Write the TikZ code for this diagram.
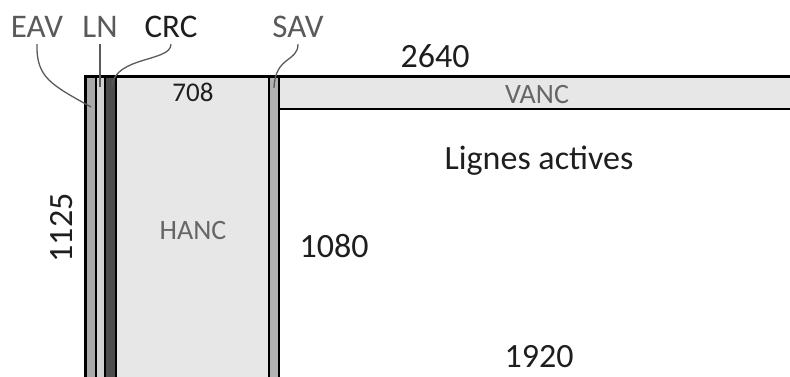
\documentclass[tikz,border=0pt]{standalone}
\usepackage{fontspec}
\setmainfont{Carlito}
\definecolor{eavfill}{HTML}{A9A9A9}
\definecolor{lnfill}{HTML}{D2D2D2}
\definecolor{crcfill}{HTML}{4D4D4D}
\definecolor{ancfill}{HTML}{E7E7E7}
\definecolor{savfill}{HTML}{B3B3B3}
\definecolor{tagink}{HTML}{5A5A5A}
\definecolor{zoneink}{HTML}{666666}
\definecolor{ink}{HTML}{1E1E1E}
\begin{document}
\begin{tikzpicture}[x=1pt, y=-1pt, inner sep=0pt,
	big/.style={font=\fontsize{34}{38}\selectfont, text=ink, anchor=base},
	tag/.style={font=\fontsize{33}{38}\selectfont, text=tagink, anchor=base, outer sep=7pt},
	zone/.style={font=\fontsize{28}{32}\selectfont, text=zoneink, anchor=base},
	leader/.style={draw=tagink, line width=1.3pt},
	edge/.style={draw=black, line width=2.2pt},
	outer/.style={draw=black, line width=3pt}]
	\useasboundingbox (0,0) rectangle (790,376);
	
	\fill[eavfill] (85,76) rectangle (96,380);
	\fill[lnfill] (96,76) rectangle (105,380);
	\fill[crcfill] (105,76) rectangle (116,380);
	\fill[ancfill] (116,76) rectangle (269,380);
	\fill[savfill] (269,76) rectangle (279,380);
	\fill[ancfill] (279,76) rectangle (792,109);
	
	\draw[edge] (96,76) -- (96,380);
	\draw[edge] (105,76) -- (105,380);
	\draw[edge] (116,76) -- (116,380);
	\draw[edge] (269,76) -- (269,380);
	\draw[edge] (279,76) -- (279,380);
	\draw[edge] (279,109) -- (792,109);
	\draw[outer] (85,380) -- (85,76) -- (792,76);
	
	\node[tag] (eav) at (37,37) {EAV};
	\node[tag] (ln) at (100,37) {LN};
	\node[tag, text=ink] (crc) at (171,37) {CRC};
	\node[tag] (sav) at (298,37) {SAV};
	
	\coordinate (eavend) at (91,107);
	\coordinate (lnend) at (100,87);
	\coordinate (crcend) at (112,86);
	\coordinate (savend) at (274,88);
	
	\draw[leader] (eav.south) .. controls (36,78) and (52,85) .. (eavend);
	\draw[leader] (ln.south) -- (lnend);
	\draw[leader] (crc.south) .. controls (171,62) and (115,56) .. (crcend);
	\draw[leader] (sav.south) .. controls (298,62) and (275,56) .. (savend);
	
	\node[zone, font=\fontsize{27}{30}\selectfont, text=ink] (hres) at (193,101.5) {708};
	\node[zone] (vanc) at (537,103) {VANC};
	\node[zone] (hanc) at (193,239) {HANC};
	\node[big] (htot) at (435,67) {2640};
	\node[big] (active) at (539,169) {Lignes actives};
	\node[big] (vres) at (334,257) {1080};
	\node[big] (hact) at (539,367) {1920};
	\node[big, rotate=90] (vtot) at (72,228) {1125};
\end{tikzpicture}
\end{document}
